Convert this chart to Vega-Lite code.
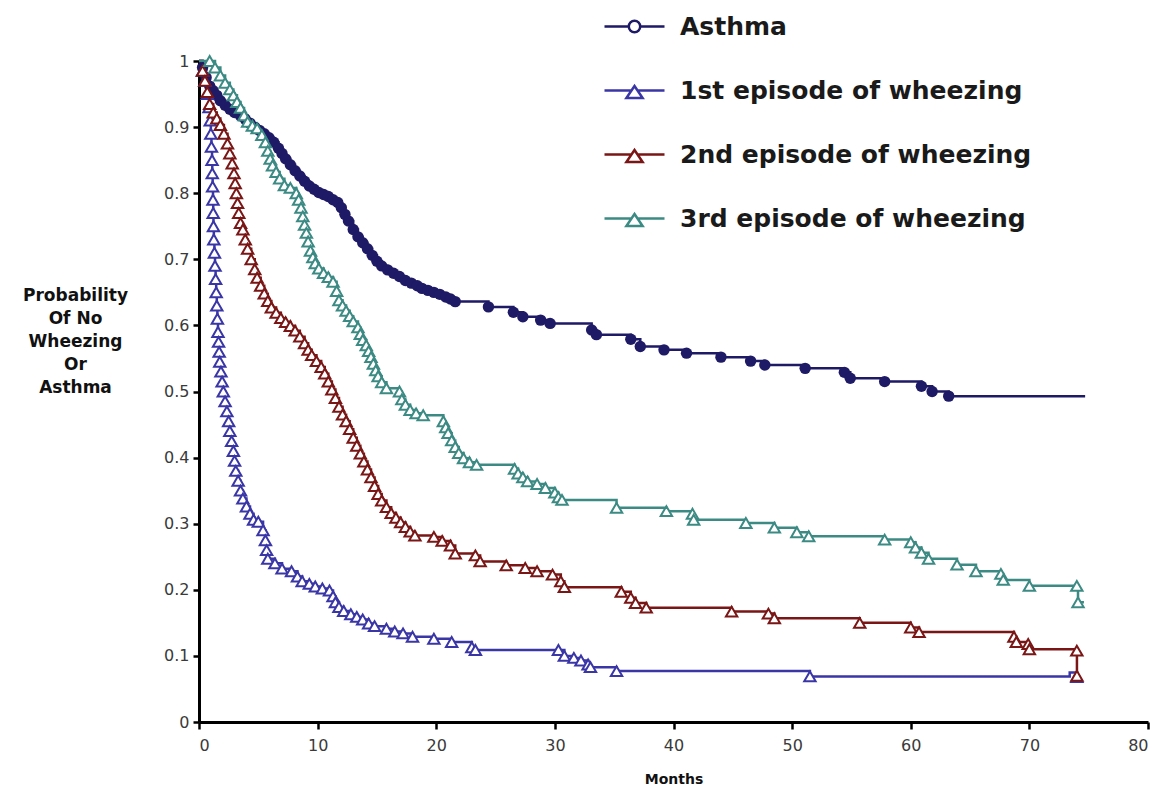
{
  "$schema": "https://vega.github.io/schema/vega-lite/v6.json",
  "width": 949,
  "height": 661,
  "autosize": {"type": "none"},
  "padding": {"left": 199, "top": 61, "right": 18, "bottom": 69},
  "background": "#ffffff",
  "config": {
    "view": {"stroke": null},
    "font": "DejaVu Sans"
  },
  "data": {
    "values": [
      {"series": "Asthma", "month": 0, "prob": 1, "event": false},
      {"series": "Asthma", "month": 0.3, "prob": 0.99, "event": true},
      {"series": "Asthma", "month": 0.6, "prob": 0.975, "event": true},
      {"series": "Asthma", "month": 0.9, "prob": 0.962, "event": true},
      {"series": "Asthma", "month": 1.2, "prob": 0.955, "event": true},
      {"series": "Asthma", "month": 1.5, "prob": 0.948, "event": true},
      {"series": "Asthma", "month": 1.8, "prob": 0.94, "event": true},
      {"series": "Asthma", "month": 2.2, "prob": 0.933, "event": true},
      {"series": "Asthma", "month": 2.6, "prob": 0.927, "event": true},
      {"series": "Asthma", "month": 3.0, "prob": 0.922, "event": true},
      {"series": "Asthma", "month": 3.5, "prob": 0.917, "event": true},
      {"series": "Asthma", "month": 3.9, "prob": 0.912, "event": true},
      {"series": "Asthma", "month": 4.3, "prob": 0.906, "event": true},
      {"series": "Asthma", "month": 4.7, "prob": 0.9, "event": true},
      {"series": "Asthma", "month": 5.1, "prob": 0.895, "event": true},
      {"series": "Asthma", "month": 5.5, "prob": 0.89, "event": true},
      {"series": "Asthma", "month": 5.9, "prob": 0.884, "event": true},
      {"series": "Asthma", "month": 6.3, "prob": 0.877, "event": true},
      {"series": "Asthma", "month": 6.7, "prob": 0.868, "event": true},
      {"series": "Asthma", "month": 7.0, "prob": 0.86, "event": true},
      {"series": "Asthma", "month": 7.3, "prob": 0.852, "event": true},
      {"series": "Asthma", "month": 7.7, "prob": 0.843, "event": true},
      {"series": "Asthma", "month": 8.1, "prob": 0.834, "event": true},
      {"series": "Asthma", "month": 8.5, "prob": 0.826, "event": true},
      {"series": "Asthma", "month": 8.9, "prob": 0.818, "event": true},
      {"series": "Asthma", "month": 9.3, "prob": 0.811, "event": true},
      {"series": "Asthma", "month": 9.7, "prob": 0.806, "event": true},
      {"series": "Asthma", "month": 10.1, "prob": 0.801, "event": true},
      {"series": "Asthma", "month": 10.5, "prob": 0.798, "event": true},
      {"series": "Asthma", "month": 10.9, "prob": 0.795, "event": true},
      {"series": "Asthma", "month": 11.3, "prob": 0.79, "event": true},
      {"series": "Asthma", "month": 11.7, "prob": 0.786, "event": true},
      {"series": "Asthma", "month": 12.0, "prob": 0.778, "event": true},
      {"series": "Asthma", "month": 12.3, "prob": 0.768, "event": true},
      {"series": "Asthma", "month": 12.6, "prob": 0.758, "event": true},
      {"series": "Asthma", "month": 13.0, "prob": 0.745, "event": true},
      {"series": "Asthma", "month": 13.4, "prob": 0.734, "event": true},
      {"series": "Asthma", "month": 13.8, "prob": 0.725, "event": true},
      {"series": "Asthma", "month": 14.2, "prob": 0.716, "event": true},
      {"series": "Asthma", "month": 14.6, "prob": 0.706, "event": true},
      {"series": "Asthma", "month": 15.0, "prob": 0.697, "event": true},
      {"series": "Asthma", "month": 15.4, "prob": 0.69, "event": true},
      {"series": "Asthma", "month": 15.9, "prob": 0.684, "event": true},
      {"series": "Asthma", "month": 16.4, "prob": 0.679, "event": true},
      {"series": "Asthma", "month": 16.9, "prob": 0.674, "event": true},
      {"series": "Asthma", "month": 17.4, "prob": 0.668, "event": true},
      {"series": "Asthma", "month": 17.9, "prob": 0.664, "event": true},
      {"series": "Asthma", "month": 18.4, "prob": 0.66, "event": true},
      {"series": "Asthma", "month": 18.8, "prob": 0.656, "event": true},
      {"series": "Asthma", "month": 19.3, "prob": 0.653, "event": true},
      {"series": "Asthma", "month": 19.8, "prob": 0.65, "event": true},
      {"series": "Asthma", "month": 20.3, "prob": 0.647, "event": true},
      {"series": "Asthma", "month": 20.8, "prob": 0.643, "event": true},
      {"series": "Asthma", "month": 21.2, "prob": 0.64, "event": true},
      {"series": "Asthma", "month": 21.6, "prob": 0.636, "event": true},
      {"series": "Asthma", "month": 24.4, "prob": 0.628, "event": true},
      {"series": "Asthma", "month": 26.5, "prob": 0.62, "event": true},
      {"series": "Asthma", "month": 27.3, "prob": 0.613, "event": true},
      {"series": "Asthma", "month": 28.8, "prob": 0.608, "event": true},
      {"series": "Asthma", "month": 29.6, "prob": 0.603, "event": true},
      {"series": "Asthma", "month": 33.1, "prob": 0.593, "event": true},
      {"series": "Asthma", "month": 33.5, "prob": 0.586, "event": true},
      {"series": "Asthma", "month": 36.4, "prob": 0.579, "event": true},
      {"series": "Asthma", "month": 37.2, "prob": 0.568, "event": true},
      {"series": "Asthma", "month": 39.2, "prob": 0.563, "event": true},
      {"series": "Asthma", "month": 41.1, "prob": 0.558, "event": true},
      {"series": "Asthma", "month": 44.0, "prob": 0.552, "event": true},
      {"series": "Asthma", "month": 46.5, "prob": 0.546, "event": true},
      {"series": "Asthma", "month": 47.7, "prob": 0.54, "event": true},
      {"series": "Asthma", "month": 51.1, "prob": 0.535, "event": true},
      {"series": "Asthma", "month": 54.4, "prob": 0.529, "event": true},
      {"series": "Asthma", "month": 54.9, "prob": 0.52, "event": true},
      {"series": "Asthma", "month": 57.8, "prob": 0.515, "event": true},
      {"series": "Asthma", "month": 60.9, "prob": 0.508, "event": true},
      {"series": "Asthma", "month": 61.8, "prob": 0.5, "event": true},
      {"series": "Asthma", "month": 63.2, "prob": 0.493, "event": true},
      {"series": "Asthma", "month": 74.7, "prob": 0.493, "event": false},

      {"series": "1st episode of wheezing", "month": 0, "prob": 1, "event": false},
      {"series": "1st episode of wheezing", "month": 0.3, "prob": 0.985, "event": true},
      {"series": "1st episode of wheezing", "month": 0.5, "prob": 0.97, "event": true},
      {"series": "1st episode of wheezing", "month": 0.7, "prob": 0.95, "event": true},
      {"series": "1st episode of wheezing", "month": 0.85, "prob": 0.93, "event": true},
      {"series": "1st episode of wheezing", "month": 0.95, "prob": 0.91, "event": true},
      {"series": "1st episode of wheezing", "month": 1.0, "prob": 0.89, "event": true},
      {"series": "1st episode of wheezing", "month": 1.05, "prob": 0.87, "event": true},
      {"series": "1st episode of wheezing", "month": 1.1, "prob": 0.85, "event": true},
      {"series": "1st episode of wheezing", "month": 1.12, "prob": 0.83, "event": true},
      {"series": "1st episode of wheezing", "month": 1.15, "prob": 0.81, "event": true},
      {"series": "1st episode of wheezing", "month": 1.18, "prob": 0.79, "event": true},
      {"series": "1st episode of wheezing", "month": 1.2, "prob": 0.77, "event": true},
      {"series": "1st episode of wheezing", "month": 1.22, "prob": 0.75, "event": true},
      {"series": "1st episode of wheezing", "month": 1.25, "prob": 0.73, "event": true},
      {"series": "1st episode of wheezing", "month": 1.3, "prob": 0.71, "event": true},
      {"series": "1st episode of wheezing", "month": 1.35, "prob": 0.69, "event": true},
      {"series": "1st episode of wheezing", "month": 1.4, "prob": 0.67, "event": true},
      {"series": "1st episode of wheezing", "month": 1.45, "prob": 0.65, "event": true},
      {"series": "1st episode of wheezing", "month": 1.5, "prob": 0.63, "event": true},
      {"series": "1st episode of wheezing", "month": 1.55, "prob": 0.61, "event": true},
      {"series": "1st episode of wheezing", "month": 1.6, "prob": 0.59, "event": true},
      {"series": "1st episode of wheezing", "month": 1.65, "prob": 0.575, "event": true},
      {"series": "1st episode of wheezing", "month": 1.7, "prob": 0.56, "event": true},
      {"series": "1st episode of wheezing", "month": 1.75, "prob": 0.545, "event": true},
      {"series": "1st episode of wheezing", "month": 1.85, "prob": 0.53, "event": true},
      {"series": "1st episode of wheezing", "month": 1.95, "prob": 0.515, "event": true},
      {"series": "1st episode of wheezing", "month": 2.05, "prob": 0.5, "event": true},
      {"series": "1st episode of wheezing", "month": 2.2, "prob": 0.485, "event": true},
      {"series": "1st episode of wheezing", "month": 2.35, "prob": 0.47, "event": true},
      {"series": "1st episode of wheezing", "month": 2.5, "prob": 0.455, "event": true},
      {"series": "1st episode of wheezing", "month": 2.6, "prob": 0.44, "event": true},
      {"series": "1st episode of wheezing", "month": 2.75, "prob": 0.425, "event": true},
      {"series": "1st episode of wheezing", "month": 2.9, "prob": 0.41, "event": true},
      {"series": "1st episode of wheezing", "month": 3.0, "prob": 0.395, "event": true},
      {"series": "1st episode of wheezing", "month": 3.1, "prob": 0.38, "event": true},
      {"series": "1st episode of wheezing", "month": 3.3, "prob": 0.365, "event": true},
      {"series": "1st episode of wheezing", "month": 3.5, "prob": 0.35, "event": true},
      {"series": "1st episode of wheezing", "month": 3.7, "prob": 0.338, "event": true},
      {"series": "1st episode of wheezing", "month": 4.0, "prob": 0.326, "event": true},
      {"series": "1st episode of wheezing", "month": 4.3, "prob": 0.315, "event": true},
      {"series": "1st episode of wheezing", "month": 4.6, "prob": 0.306, "event": true},
      {"series": "1st episode of wheezing", "month": 5.0, "prob": 0.303, "event": true},
      {"series": "1st episode of wheezing", "month": 5.4, "prob": 0.29, "event": true},
      {"series": "1st episode of wheezing", "month": 5.6, "prob": 0.275, "event": true},
      {"series": "1st episode of wheezing", "month": 5.7, "prob": 0.26, "event": true},
      {"series": "1st episode of wheezing", "month": 5.8, "prob": 0.247, "event": true},
      {"series": "1st episode of wheezing", "month": 6.4, "prob": 0.24, "event": true},
      {"series": "1st episode of wheezing", "month": 7.0, "prob": 0.232, "event": true},
      {"series": "1st episode of wheezing", "month": 7.8, "prob": 0.228, "event": true},
      {"series": "1st episode of wheezing", "month": 8.3, "prob": 0.22, "event": true},
      {"series": "1st episode of wheezing", "month": 8.7, "prob": 0.213, "event": true},
      {"series": "1st episode of wheezing", "month": 9.3, "prob": 0.209, "event": true},
      {"series": "1st episode of wheezing", "month": 9.8, "prob": 0.205, "event": true},
      {"series": "1st episode of wheezing", "month": 10.4, "prob": 0.202, "event": true},
      {"series": "1st episode of wheezing", "month": 11.0, "prob": 0.199, "event": true},
      {"series": "1st episode of wheezing", "month": 11.3, "prob": 0.19, "event": true},
      {"series": "1st episode of wheezing", "month": 11.5, "prob": 0.181, "event": true},
      {"series": "1st episode of wheezing", "month": 11.8, "prob": 0.174, "event": true},
      {"series": "1st episode of wheezing", "month": 12.2, "prob": 0.168, "event": true},
      {"series": "1st episode of wheezing", "month": 12.8, "prob": 0.163, "event": true},
      {"series": "1st episode of wheezing", "month": 13.3, "prob": 0.159, "event": true},
      {"series": "1st episode of wheezing", "month": 13.8, "prob": 0.155, "event": true},
      {"series": "1st episode of wheezing", "month": 14.3, "prob": 0.149, "event": true},
      {"series": "1st episode of wheezing", "month": 14.8, "prob": 0.145, "event": true},
      {"series": "1st episode of wheezing", "month": 15.8, "prob": 0.141, "event": true},
      {"series": "1st episode of wheezing", "month": 16.5, "prob": 0.137, "event": true},
      {"series": "1st episode of wheezing", "month": 17.2, "prob": 0.134, "event": true},
      {"series": "1st episode of wheezing", "month": 18.0, "prob": 0.129, "event": true},
      {"series": "1st episode of wheezing", "month": 19.8, "prob": 0.126, "event": true},
      {"series": "1st episode of wheezing", "month": 21.3, "prob": 0.121, "event": true},
      {"series": "1st episode of wheezing", "month": 23.0, "prob": 0.113, "event": true},
      {"series": "1st episode of wheezing", "month": 23.3, "prob": 0.109, "event": true},
      {"series": "1st episode of wheezing", "month": 30.3, "prob": 0.109, "event": true},
      {"series": "1st episode of wheezing", "month": 30.8, "prob": 0.1, "event": true},
      {"series": "1st episode of wheezing", "month": 31.6, "prob": 0.097, "event": true},
      {"series": "1st episode of wheezing", "month": 32.2, "prob": 0.093, "event": true},
      {"series": "1st episode of wheezing", "month": 32.8, "prob": 0.087, "event": true},
      {"series": "1st episode of wheezing", "month": 33.0, "prob": 0.083, "event": true},
      {"series": "1st episode of wheezing", "month": 35.2, "prob": 0.077, "event": true},
      {"series": "1st episode of wheezing", "month": 51.5, "prob": 0.069, "event": true},
      {"series": "1st episode of wheezing", "month": 73.4, "prob": 0.075, "event": false},
      {"series": "1st episode of wheezing", "month": 74.0, "prob": 0.068, "event": true},

      {"series": "2nd episode of wheezing", "month": 0, "prob": 1, "event": false},
      {"series": "2nd episode of wheezing", "month": 0.3, "prob": 0.985, "event": true},
      {"series": "2nd episode of wheezing", "month": 0.5, "prob": 0.97, "event": true},
      {"series": "2nd episode of wheezing", "month": 0.7, "prob": 0.953, "event": true},
      {"series": "2nd episode of wheezing", "month": 0.9, "prob": 0.935, "event": true},
      {"series": "2nd episode of wheezing", "month": 1.2, "prob": 0.922, "event": true},
      {"series": "2nd episode of wheezing", "month": 1.5, "prob": 0.913, "event": true},
      {"series": "2nd episode of wheezing", "month": 1.8, "prob": 0.903, "event": true},
      {"series": "2nd episode of wheezing", "month": 2.1, "prob": 0.89, "event": true},
      {"series": "2nd episode of wheezing", "month": 2.4, "prob": 0.875, "event": true},
      {"series": "2nd episode of wheezing", "month": 2.6, "prob": 0.86, "event": true},
      {"series": "2nd episode of wheezing", "month": 2.8, "prob": 0.845, "event": true},
      {"series": "2nd episode of wheezing", "month": 2.95, "prob": 0.83, "event": true},
      {"series": "2nd episode of wheezing", "month": 3.05, "prob": 0.815, "event": true},
      {"series": "2nd episode of wheezing", "month": 3.15, "prob": 0.8, "event": true},
      {"series": "2nd episode of wheezing", "month": 3.25, "prob": 0.785, "event": true},
      {"series": "2nd episode of wheezing", "month": 3.35, "prob": 0.77, "event": true},
      {"series": "2nd episode of wheezing", "month": 3.5, "prob": 0.755, "event": true},
      {"series": "2nd episode of wheezing", "month": 3.7, "prob": 0.745, "event": true},
      {"series": "2nd episode of wheezing", "month": 3.9, "prob": 0.73, "event": true},
      {"series": "2nd episode of wheezing", "month": 4.1, "prob": 0.716, "event": true},
      {"series": "2nd episode of wheezing", "month": 4.4, "prob": 0.7, "event": true},
      {"series": "2nd episode of wheezing", "month": 4.7, "prob": 0.685, "event": true},
      {"series": "2nd episode of wheezing", "month": 4.9, "prob": 0.672, "event": true},
      {"series": "2nd episode of wheezing", "month": 5.2, "prob": 0.66, "event": true},
      {"series": "2nd episode of wheezing", "month": 5.5, "prob": 0.648, "event": true},
      {"series": "2nd episode of wheezing", "month": 5.8, "prob": 0.637, "event": true},
      {"series": "2nd episode of wheezing", "month": 6.1, "prob": 0.627, "event": true},
      {"series": "2nd episode of wheezing", "month": 6.5, "prob": 0.619, "event": true},
      {"series": "2nd episode of wheezing", "month": 6.9, "prob": 0.611, "event": true},
      {"series": "2nd episode of wheezing", "month": 7.3, "prob": 0.605, "event": true},
      {"series": "2nd episode of wheezing", "month": 7.7, "prob": 0.599, "event": true},
      {"series": "2nd episode of wheezing", "month": 8.1, "prob": 0.592, "event": true},
      {"series": "2nd episode of wheezing", "month": 8.5, "prob": 0.583, "event": true},
      {"series": "2nd episode of wheezing", "month": 8.9, "prob": 0.573, "event": true},
      {"series": "2nd episode of wheezing", "month": 9.2, "prob": 0.563, "event": true},
      {"series": "2nd episode of wheezing", "month": 9.5, "prob": 0.555, "event": true},
      {"series": "2nd episode of wheezing", "month": 9.9, "prob": 0.546, "event": true},
      {"series": "2nd episode of wheezing", "month": 10.3, "prob": 0.537, "event": true},
      {"series": "2nd episode of wheezing", "month": 10.6, "prob": 0.527, "event": true},
      {"series": "2nd episode of wheezing", "month": 10.9, "prob": 0.515, "event": true},
      {"series": "2nd episode of wheezing", "month": 11.2, "prob": 0.503, "event": true},
      {"series": "2nd episode of wheezing", "month": 11.5, "prob": 0.49, "event": true},
      {"series": "2nd episode of wheezing", "month": 11.8, "prob": 0.477, "event": true},
      {"series": "2nd episode of wheezing", "month": 12.1, "prob": 0.465, "event": true},
      {"series": "2nd episode of wheezing", "month": 12.4, "prob": 0.455, "event": true},
      {"series": "2nd episode of wheezing", "month": 12.7, "prob": 0.443, "event": true},
      {"series": "2nd episode of wheezing", "month": 13.0, "prob": 0.43, "event": true},
      {"series": "2nd episode of wheezing", "month": 13.3, "prob": 0.418, "event": true},
      {"series": "2nd episode of wheezing", "month": 13.6, "prob": 0.406, "event": true},
      {"series": "2nd episode of wheezing", "month": 13.9, "prob": 0.394, "event": true},
      {"series": "2nd episode of wheezing", "month": 14.2, "prob": 0.382, "event": true},
      {"series": "2nd episode of wheezing", "month": 14.5, "prob": 0.37, "event": true},
      {"series": "2nd episode of wheezing", "month": 14.8, "prob": 0.357, "event": true},
      {"series": "2nd episode of wheezing", "month": 15.1, "prob": 0.345, "event": true},
      {"series": "2nd episode of wheezing", "month": 15.4, "prob": 0.335, "event": true},
      {"series": "2nd episode of wheezing", "month": 15.8, "prob": 0.325, "event": true},
      {"series": "2nd episode of wheezing", "month": 16.2, "prob": 0.316, "event": true},
      {"series": "2nd episode of wheezing", "month": 16.6, "prob": 0.309, "event": true},
      {"series": "2nd episode of wheezing", "month": 17.0, "prob": 0.302, "event": true},
      {"series": "2nd episode of wheezing", "month": 17.4, "prob": 0.295, "event": true},
      {"series": "2nd episode of wheezing", "month": 17.8, "prob": 0.288, "event": true},
      {"series": "2nd episode of wheezing", "month": 18.2, "prob": 0.282, "event": true},
      {"series": "2nd episode of wheezing", "month": 19.8, "prob": 0.28, "event": true},
      {"series": "2nd episode of wheezing", "month": 20.5, "prob": 0.274, "event": true},
      {"series": "2nd episode of wheezing", "month": 21.2, "prob": 0.267, "event": true},
      {"series": "2nd episode of wheezing", "month": 21.6, "prob": 0.255, "event": true},
      {"series": "2nd episode of wheezing", "month": 23.3, "prob": 0.252, "event": true},
      {"series": "2nd episode of wheezing", "month": 23.7, "prob": 0.243, "event": true},
      {"series": "2nd episode of wheezing", "month": 25.9, "prob": 0.237, "event": true},
      {"series": "2nd episode of wheezing", "month": 27.5, "prob": 0.233, "event": true},
      {"series": "2nd episode of wheezing", "month": 28.5, "prob": 0.228, "event": true},
      {"series": "2nd episode of wheezing", "month": 29.8, "prob": 0.223, "event": true},
      {"series": "2nd episode of wheezing", "month": 30.5, "prob": 0.213, "event": true},
      {"series": "2nd episode of wheezing", "month": 30.8, "prob": 0.204, "event": true},
      {"series": "2nd episode of wheezing", "month": 35.6, "prob": 0.197, "event": true},
      {"series": "2nd episode of wheezing", "month": 36.4, "prob": 0.188, "event": true},
      {"series": "2nd episode of wheezing", "month": 36.8, "prob": 0.18, "event": true},
      {"series": "2nd episode of wheezing", "month": 37.7, "prob": 0.173, "event": true},
      {"series": "2nd episode of wheezing", "month": 44.9, "prob": 0.167, "event": true},
      {"series": "2nd episode of wheezing", "month": 48.0, "prob": 0.164, "event": true},
      {"series": "2nd episode of wheezing", "month": 48.5, "prob": 0.157, "event": true},
      {"series": "2nd episode of wheezing", "month": 55.7, "prob": 0.15, "event": true},
      {"series": "2nd episode of wheezing", "month": 60.0, "prob": 0.143, "event": true},
      {"series": "2nd episode of wheezing", "month": 60.7, "prob": 0.136, "event": true},
      {"series": "2nd episode of wheezing", "month": 68.7, "prob": 0.129, "event": true},
      {"series": "2nd episode of wheezing", "month": 68.9, "prob": 0.121, "event": true},
      {"series": "2nd episode of wheezing", "month": 69.9, "prob": 0.118, "event": true},
      {"series": "2nd episode of wheezing", "month": 70.0, "prob": 0.11, "event": true},
      {"series": "2nd episode of wheezing", "month": 74.0, "prob": 0.108, "event": true},
      {"series": "2nd episode of wheezing", "month": 74.01, "prob": 0.07, "event": true},

      {"series": "3rd episode of wheezing", "month": 0, "prob": 1, "event": false},
      {"series": "3rd episode of wheezing", "month": 0.9, "prob": 1.0, "event": true},
      {"series": "3rd episode of wheezing", "month": 1.35, "prob": 0.99, "event": true},
      {"series": "3rd episode of wheezing", "month": 1.8, "prob": 0.978, "event": true},
      {"series": "3rd episode of wheezing", "month": 2.2, "prob": 0.967, "event": true},
      {"series": "3rd episode of wheezing", "month": 2.6, "prob": 0.957, "event": true},
      {"series": "3rd episode of wheezing", "month": 2.9, "prob": 0.948, "event": true},
      {"series": "3rd episode of wheezing", "month": 3.2, "prob": 0.938, "event": true},
      {"series": "3rd episode of wheezing", "month": 3.5, "prob": 0.929, "event": true},
      {"series": "3rd episode of wheezing", "month": 3.8, "prob": 0.918, "event": true},
      {"series": "3rd episode of wheezing", "month": 4.1, "prob": 0.908, "event": true},
      {"series": "3rd episode of wheezing", "month": 4.5, "prob": 0.902, "event": true},
      {"series": "3rd episode of wheezing", "month": 4.9, "prob": 0.898, "event": true},
      {"series": "3rd episode of wheezing", "month": 5.3, "prob": 0.888, "event": true},
      {"series": "3rd episode of wheezing", "month": 5.6, "prob": 0.877, "event": true},
      {"series": "3rd episode of wheezing", "month": 5.8, "prob": 0.864, "event": true},
      {"series": "3rd episode of wheezing", "month": 6.0, "prob": 0.852, "event": true},
      {"series": "3rd episode of wheezing", "month": 6.2, "prob": 0.842, "event": true},
      {"series": "3rd episode of wheezing", "month": 6.5, "prob": 0.832, "event": true},
      {"series": "3rd episode of wheezing", "month": 6.8, "prob": 0.822, "event": true},
      {"series": "3rd episode of wheezing", "month": 7.2, "prob": 0.812, "event": true},
      {"series": "3rd episode of wheezing", "month": 7.7, "prob": 0.808, "event": true},
      {"series": "3rd episode of wheezing", "month": 8.2, "prob": 0.8, "event": true},
      {"series": "3rd episode of wheezing", "month": 8.4, "prob": 0.79, "event": true},
      {"series": "3rd episode of wheezing", "month": 8.6, "prob": 0.778, "event": true},
      {"series": "3rd episode of wheezing", "month": 8.75, "prob": 0.765, "event": true},
      {"series": "3rd episode of wheezing", "month": 8.9, "prob": 0.752, "event": true},
      {"series": "3rd episode of wheezing", "month": 9.05, "prob": 0.74, "event": true},
      {"series": "3rd episode of wheezing", "month": 9.2, "prob": 0.727, "event": true},
      {"series": "3rd episode of wheezing", "month": 9.4, "prob": 0.713, "event": true},
      {"series": "3rd episode of wheezing", "month": 9.6, "prob": 0.703, "event": true},
      {"series": "3rd episode of wheezing", "month": 9.8, "prob": 0.694, "event": true},
      {"series": "3rd episode of wheezing", "month": 10.1, "prob": 0.686, "event": true},
      {"series": "3rd episode of wheezing", "month": 10.5, "prob": 0.679, "event": true},
      {"series": "3rd episode of wheezing", "month": 10.9, "prob": 0.673, "event": true},
      {"series": "3rd episode of wheezing", "month": 11.3, "prob": 0.666, "event": true},
      {"series": "3rd episode of wheezing", "month": 11.6, "prob": 0.652, "event": true},
      {"series": "3rd episode of wheezing", "month": 11.8, "prob": 0.638, "event": true},
      {"series": "3rd episode of wheezing", "month": 12.1, "prob": 0.63, "event": true},
      {"series": "3rd episode of wheezing", "month": 12.4, "prob": 0.622, "event": true},
      {"series": "3rd episode of wheezing", "month": 12.7, "prob": 0.614, "event": true},
      {"series": "3rd episode of wheezing", "month": 13.0, "prob": 0.606, "event": true},
      {"series": "3rd episode of wheezing", "month": 13.4, "prob": 0.597, "event": true},
      {"series": "3rd episode of wheezing", "month": 13.6, "prob": 0.587, "event": true},
      {"series": "3rd episode of wheezing", "month": 13.8, "prob": 0.578, "event": true},
      {"series": "3rd episode of wheezing", "month": 14.1, "prob": 0.57, "event": true},
      {"series": "3rd episode of wheezing", "month": 14.3, "prob": 0.561, "event": true},
      {"series": "3rd episode of wheezing", "month": 14.5, "prob": 0.552, "event": true},
      {"series": "3rd episode of wheezing", "month": 14.7, "prob": 0.542, "event": true},
      {"series": "3rd episode of wheezing", "month": 14.9, "prob": 0.532, "event": true},
      {"series": "3rd episode of wheezing", "month": 15.1, "prob": 0.523, "event": true},
      {"series": "3rd episode of wheezing", "month": 15.4, "prob": 0.514, "event": true},
      {"series": "3rd episode of wheezing", "month": 15.8, "prob": 0.505, "event": true},
      {"series": "3rd episode of wheezing", "month": 16.9, "prob": 0.5, "event": true},
      {"series": "3rd episode of wheezing", "month": 17.1, "prob": 0.488, "event": true},
      {"series": "3rd episode of wheezing", "month": 17.4, "prob": 0.48, "event": true},
      {"series": "3rd episode of wheezing", "month": 17.8, "prob": 0.472, "event": true},
      {"series": "3rd episode of wheezing", "month": 18.3, "prob": 0.467, "event": true},
      {"series": "3rd episode of wheezing", "month": 18.9, "prob": 0.464, "event": true},
      {"series": "3rd episode of wheezing", "month": 20.6, "prob": 0.455, "event": true},
      {"series": "3rd episode of wheezing", "month": 20.8, "prob": 0.446, "event": true},
      {"series": "3rd episode of wheezing", "month": 21.0, "prob": 0.437, "event": true},
      {"series": "3rd episode of wheezing", "month": 21.3, "prob": 0.426, "event": true},
      {"series": "3rd episode of wheezing", "month": 21.6, "prob": 0.416, "event": true},
      {"series": "3rd episode of wheezing", "month": 21.9, "prob": 0.407, "event": true},
      {"series": "3rd episode of wheezing", "month": 22.3, "prob": 0.399, "event": true},
      {"series": "3rd episode of wheezing", "month": 22.8, "prob": 0.393, "event": true},
      {"series": "3rd episode of wheezing", "month": 23.4, "prob": 0.389, "event": true},
      {"series": "3rd episode of wheezing", "month": 26.6, "prob": 0.383, "event": true},
      {"series": "3rd episode of wheezing", "month": 26.9, "prob": 0.376, "event": true},
      {"series": "3rd episode of wheezing", "month": 27.3, "prob": 0.37, "event": true},
      {"series": "3rd episode of wheezing", "month": 27.7, "prob": 0.364, "event": true},
      {"series": "3rd episode of wheezing", "month": 28.5, "prob": 0.36, "event": true},
      {"series": "3rd episode of wheezing", "month": 29.2, "prob": 0.354, "event": true},
      {"series": "3rd episode of wheezing", "month": 30.0, "prob": 0.347, "event": true},
      {"series": "3rd episode of wheezing", "month": 30.3, "prob": 0.34, "event": true},
      {"series": "3rd episode of wheezing", "month": 30.6, "prob": 0.336, "event": true},
      {"series": "3rd episode of wheezing", "month": 35.2, "prob": 0.324, "event": true},
      {"series": "3rd episode of wheezing", "month": 39.4, "prob": 0.319, "event": true},
      {"series": "3rd episode of wheezing", "month": 41.6, "prob": 0.315, "event": true},
      {"series": "3rd episode of wheezing", "month": 41.7, "prob": 0.306, "event": true},
      {"series": "3rd episode of wheezing", "month": 46.1, "prob": 0.301, "event": true},
      {"series": "3rd episode of wheezing", "month": 48.5, "prob": 0.294, "event": true},
      {"series": "3rd episode of wheezing", "month": 50.4, "prob": 0.287, "event": true},
      {"series": "3rd episode of wheezing", "month": 51.4, "prob": 0.281, "event": true},
      {"series": "3rd episode of wheezing", "month": 57.8, "prob": 0.276, "event": true},
      {"series": "3rd episode of wheezing", "month": 60.0, "prob": 0.272, "event": true},
      {"series": "3rd episode of wheezing", "month": 60.4, "prob": 0.264, "event": true},
      {"series": "3rd episode of wheezing", "month": 60.9, "prob": 0.256, "event": true},
      {"series": "3rd episode of wheezing", "month": 61.5, "prob": 0.247, "event": true},
      {"series": "3rd episode of wheezing", "month": 63.9, "prob": 0.238, "event": true},
      {"series": "3rd episode of wheezing", "month": 65.5, "prob": 0.228, "event": true},
      {"series": "3rd episode of wheezing", "month": 67.6, "prob": 0.224, "event": true},
      {"series": "3rd episode of wheezing", "month": 67.8, "prob": 0.215, "event": true},
      {"series": "3rd episode of wheezing", "month": 70.0, "prob": 0.206, "event": true},
      {"series": "3rd episode of wheezing", "month": 74.0, "prob": 0.206, "event": true},
      {"series": "3rd episode of wheezing", "month": 74.1, "prob": 0.181, "event": true},
      {"series": "3rd episode of wheezing", "month": 74.6, "prob": 0.181, "event": false}
    ]
  },
  "encoding": {
    "x": {
      "field": "month",
      "type": "quantitative",
      "scale": {"domain": [0, 80], "nice": false, "zero": true},
      "axis": {
        "title": "Months",
        "values": [0, 10, 20, 30, 40, 50, 60, 70, 80],
        "grid": false,
        "domainColor": "#000000",
        "domainWidth": 3,
        "tickColor": "#000000",
        "tickWidth": 2.5,
        "tickSize": 7,
        "labelFont": "DejaVu Sans",
        "labelFontSize": 16,
        "labelColor": "#3a3a3a",
        "labelPadding": 8,
        "titleFont": "DejaVu Sans",
        "titleFontSize": 14,
        "titleFontWeight": "bold",
        "titleColor": "#111111",
        "titlePadding": 19
      }
    },
    "y": {
      "field": "prob",
      "type": "quantitative",
      "scale": {"domain": [0, 1], "nice": false},
      "axis": {
        "title": ["Probability", "Of No", "Wheezing", "Or", "Asthma"],
        "values": [0, 0.1, 0.2, 0.3, 0.4, 0.5, 0.6, 0.7, 0.8, 0.9, 1],
        "format": "~g",
        "grid": false,
        "domainColor": "#000000",
        "domainWidth": 3,
        "tickColor": "#000000",
        "tickWidth": 2.5,
        "tickSize": 6,
        "labelFont": "DejaVu Sans",
        "labelFontSize": 16,
        "labelColor": "#3a3a3a",
        "labelPadding": 4,
        "titleFont": "DejaVu Sans",
        "titleFontSize": 17,
        "titleFontWeight": "bold",
        "titleColor": "#111111",
        "titleAngle": 0,
        "titleAlign": "center",
        "titleBaseline": "top",
        "titleLineHeight": 23,
        "titleX": -124,
        "titleY": 226
      }
    }
  },
  "layer": [
    {
      "mark": {"type": "line", "interpolate": "step-after", "strokeWidth": 2.5},
      "encoding": {
        "color": {
          "field": "series",
          "type": "nominal",
          "scale": {
            "domain": ["Asthma", "1st episode of wheezing", "2nd episode of wheezing", "3rd episode of wheezing"],
            "range": ["#1e1a66", "#3a36a6", "#7a1616", "#3c8a84"]
          },
          "legend": {
            "title": null,
            "orient": "none",
            "legendX": 404,
            "legendY": -66,
            "symbolSize": 3600,
            "symbolStrokeWidth": 2.5,
            "labelFont": "DejaVu Sans",
            "labelFontSize": 25,
            "labelFontWeight": "bold",
            "labelColor": "#1a1a1a",
            "labelOffset": 14,
            "labelLimit": 500,
            "rowPadding": 19,
            "padding": 0,
            "encode": {
              "symbols": {
                "update": {
                  "shape": {"signal": "datum.label === 'Asthma' ? 'M-1,0H-0.19M0.19,0A0.19,0.19 0 1,1 -0.19,0A0.19,0.19 0 1,1 0.19,0M0.19,0H1' : 'M-1,0H-0.1M0.1,0H1M0,-0.15L0.27,0.25L-0.27,0.25Z'"},
                  "fill": {"value": "#ffffff"},
                  "fillOpacity": {"value": 1},
                  "strokeWidth": {"value": 2.5}
                }
              }
            }
          }
        }
      }
    },
    {
      "transform": [{"filter": "datum.event && datum.series === 'Asthma'"}],
      "mark": {"type": "point", "shape": "circle", "filled": true, "size": 130, "opacity": 1, "color": "#1e1a66"}
    },
    {
      "transform": [{"filter": "datum.event && datum.series !== 'Asthma'"}],
      "mark": {"type": "point", "shape": "triangle-up", "filled": false, "fill": "#ffffff", "fillOpacity": 1, "size": 130, "strokeWidth": 2, "opacity": 1},
      "encoding": {
        "stroke": {
          "field": "series",
          "type": "nominal",
          "scale": {
            "domain": ["Asthma", "1st episode of wheezing", "2nd episode of wheezing", "3rd episode of wheezing"],
            "range": ["#1e1a66", "#3a36a6", "#7a1616", "#3c8a84"]
          },
          "legend": null
        }
      }
    }
  ]
}
